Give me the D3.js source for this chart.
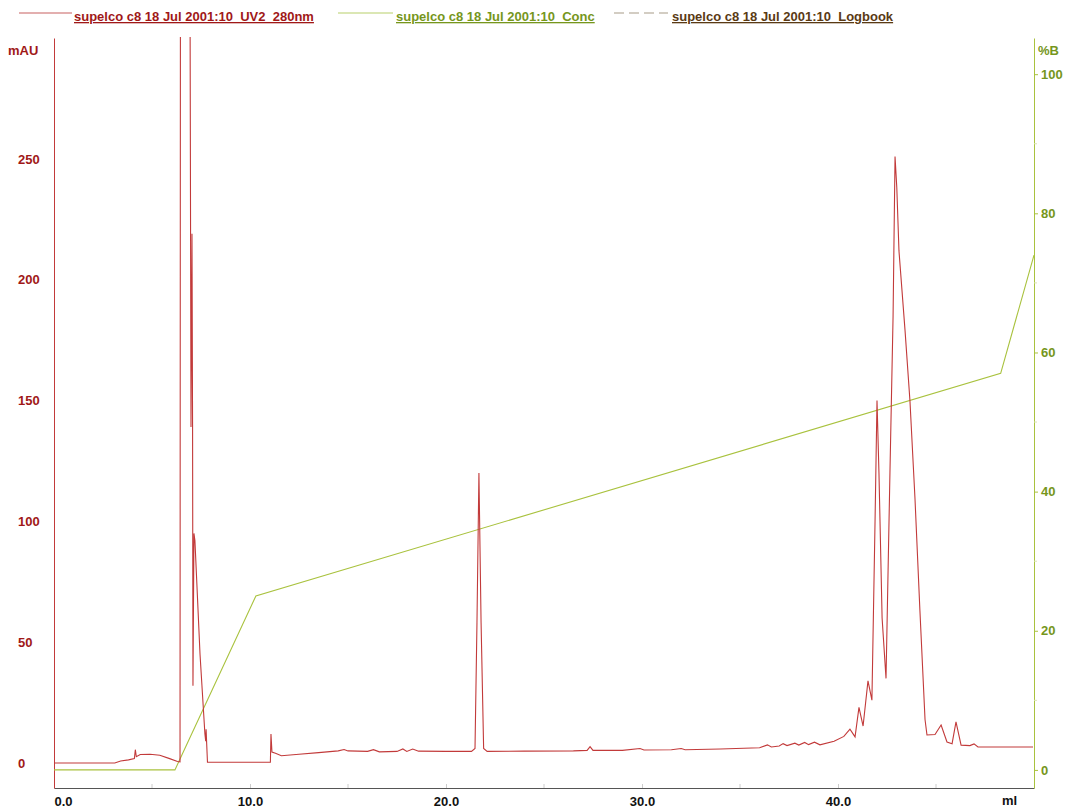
<!DOCTYPE html>
<html>
<head>
<meta charset="utf-8">
<script src="https://cdn.jsdelivr.net/npm/d3@7"></script>
<style>
  body { margin: 0; background: #fff; }
  svg { font-family: "Liberation Sans", Arial, sans-serif; }
  .lbl { font-size: 13px; font-weight: bold; }
  .legend text { font-size: 13px; font-weight: bold; text-decoration: underline; }
</style>
</head>
<body>
<div id="chart"></div>
<script>
// UV 280nm trace: retention volume (ml) and absorbance (mAU)
var uvMl = [0, 3.1, 3.4, 3.8, 4.1, 4.15, 4.2, 4.4, 4.9, 5.4, 5.9, 6.3, 6.43,
  6.45, 6.94, 6.99, 7.04, 7.07, 7.09, 7.14, 7.19, 7.45, 7.7, 7.74, 7.76, 7.79, 7.83,
  11.04, 11.07, 11.12, 11.3, 11.6, 12.5, 13.5, 14.5, 14.8, 15.0, 16.0, 16.3, 16.6,
  17.5, 17.8, 18.0, 18.3, 18.6, 20.0, 21.3, 21.48, 21.58, 21.68, 21.79, 21.92, 22.1,
  24.0, 26.5, 27.2, 27.35, 27.5, 29.0, 29.9, 30.1, 31.5, 32.0, 32.2, 34.0, 36.0,
  36.4, 36.6, 37.0, 37.2, 37.4, 37.8, 38.0, 38.3, 38.5, 38.8, 39.08, 39.8, 40.3,
  40.61, 40.87, 41.07, 41.28, 41.53, 41.73, 41.89, 41.99, 42.09, 42.25, 42.45,
  42.65, 42.81, 42.91, 43.0, 43.11, 43.42, 43.67, 43.93, 44.18, 44.44, 44.54, 44.95,
  45.26, 45.56, 45.82, 46.02, 46.28, 46.73, 46.94, 47.14, 48.5, 49.95];
var uvMAU = [0, 0, 0.8, 1.3, 1.8, 5.5, 2.6, 3.5, 3.6, 3.2, 1.8, 0.6, 0.5,
  320, 320, 139, 219, 140, 32, 95, 92, 45, 12, 9, 14, 8, 0.3,
  0.3, 12, 4.5, 4, 3, 3.6, 4.3, 5, 5.6, 5, 4.8, 5.5, 4.6,
  4.8, 5.8, 4.8, 5.8, 4.9, 4.8, 4.8, 6, 58, 120, 58, 6, 4.8,
  4.9, 5, 5.2, 6.8, 5.2, 5.2, 6, 5.4, 5.5, 6, 5.5, 5.8, 6.3,
  7.5, 6.6, 7, 8, 7.2, 8.2, 7.4, 8.5, 7.6, 8.6, 7.5, 9, 11,
  14, 10.8, 23, 15.3, 34, 26, 100, 150, 120, 60, 35,
  120, 185, 251, 238, 212, 179, 150, 109, 63, 18, 11.6, 11.8,
  15.7, 8.7, 8, 17, 7.4, 7.2, 7.9, 6.6, 6.6, 6.6];

// Concentration %B
var concMl = [0, 6.17, 10.3, 48.3, 50];
var concB = [0, 0, 25, 57, 74];

var xTicks = [0, 10, 20, 30, 40];
var xMinor = [5, 15, 25, 35, 45];
var leftTicks = [0, 50, 100, 150, 200, 250];
var rightTicks = [0, 20, 40, 60, 80, 100];
var rightMinor = [10, 30, 50, 70, 90];

var legendNames = ["supelco c8 18 Jul 2001:10_UV2_280nm",
  "supelco c8 18 Jul 2001:10_Conc",
  "supelco c8 18 Jul 2001:10_Logbook"];

var redC = "#c23a3a", greenC = "#a9c23e", darkRed = "#a01818", olive = "#76961c";

var W = 1066, H = 809;
var svg = d3.select("#chart").append("svg").attr("width", W).attr("height", H);

var x = d3.scaleLinear().domain([0, 50]).range([54, 1034]);
var yL = d3.scaleLinear().domain([-10.35, 300]).range([788, 38]);
var yR = d3.scaleLinear().domain([-2.6, 105.2]).range([788, 38]);

svg.append("clipPath").attr("id", "plot")
  .append("rect").attr("x", 54).attr("y", 37).attr("width", 980).attr("height", 751);

// x axis
var xAxis = svg.append("g").attr("transform", "translate(0,788)")
  .call(d3.axisBottom(x).tickValues(xTicks).tickFormat(d3.format(".1f"))
    .tickSizeInner(-4).tickSizeOuter(0).tickPadding(9));
xAxis.select(".domain").attr("stroke", "#555");
xAxis.selectAll(".tick line").attr("stroke", "#ccc");
xAxis.selectAll(".tick text").attr("class", "lbl").attr("fill", "#111")
  .attr("text-anchor", function (d) { return d === 0 ? "start" : "middle"; });
svg.append("g").selectAll("line").data(xMinor).enter().append("line")
  .attr("x1", function (d) { return x(d); }).attr("x2", function (d) { return x(d); })
  .attr("y1", 788).attr("y2", 784).attr("stroke", "#ccc");
svg.append("text").attr("class", "lbl").attr("x", 1002).attr("y", 805)
  .attr("fill", "#111").text("ml");

// left axis
var lAxis = svg.append("g").attr("transform", "translate(54,0)")
  .call(d3.axisLeft(yL).tickValues(leftTicks).tickSize(0).tickSizeOuter(0));
lAxis.select(".domain").attr("stroke", redC);
lAxis.selectAll(".tick text").attr("class", "lbl").attr("fill", darkRed)
  .attr("text-anchor", "start").attr("x", -36);
svg.append("text").attr("class", "lbl").attr("x", 8).attr("y", 55)
  .attr("fill", darkRed).text("mAU");

// right axis
var rAxis = svg.append("g").attr("transform", "translate(1034,0)")
  .call(d3.axisRight(yR).tickValues(rightTicks).tickSize(4).tickSizeOuter(0).tickPadding(3));
rAxis.select(".domain").attr("stroke", greenC);
rAxis.selectAll(".tick line").attr("stroke", greenC);
rAxis.selectAll(".tick text").attr("class", "lbl").attr("fill", olive);
rAxis.append("g").selectAll("line").data(rightMinor).enter().append("line")
  .attr("x1", 0).attr("x2", 3)
  .attr("y1", function (d) { return yR(d); }).attr("y2", function (d) { return yR(d); })
  .attr("stroke", "#d8e4b0");
svg.append("text").attr("class", "lbl").attr("x", 1038).attr("y", 55)
  .attr("fill", olive).text("%B");

// traces
var concLine = d3.line().x(function (d, i) { return x(concMl[i]); })
  .y(function (d) { return yR(d); });
svg.append("path").datum(concB).attr("d", concLine)
  .attr("fill", "none").attr("stroke", greenC).attr("stroke-width", 1.1);

var uvLine = d3.line().x(function (d, i) { return x(uvMl[i]); })
  .y(function (d) { return yL(d); });
svg.append("path").datum(uvMAU).attr("d", uvLine).attr("clip-path", "url(#plot)")
  .attr("fill", "none").attr("stroke", redC).attr("stroke-width", 1.1);

// legend
var legend = svg.append("g").attr("class", "legend");
var legendItems = [
  { x1: 19, x2: 72, tx: 74, color: "#c86060", text: darkRed, dash: null },
  { x1: 338, x2: 393, tx: 396, color: "#b8cf6a", text: olive, dash: null },
  { x1: 614, x2: 668, tx: 672, color: "#a89c88", text: "#5a3a14", dash: "10,5" }
];
legendItems.forEach(function (d, i) {
  legend.append("line").attr("x1", d.x1).attr("x2", d.x2).attr("y1", 13).attr("y2", 13)
    .attr("stroke", d.color).attr("stroke-width", 1.2).attr("stroke-dasharray", d.dash);
  legend.append("text").attr("x", d.tx).attr("y", 21).attr("fill", d.text)
    .text(legendNames[i]);
});
</script>
</body>
</html>
